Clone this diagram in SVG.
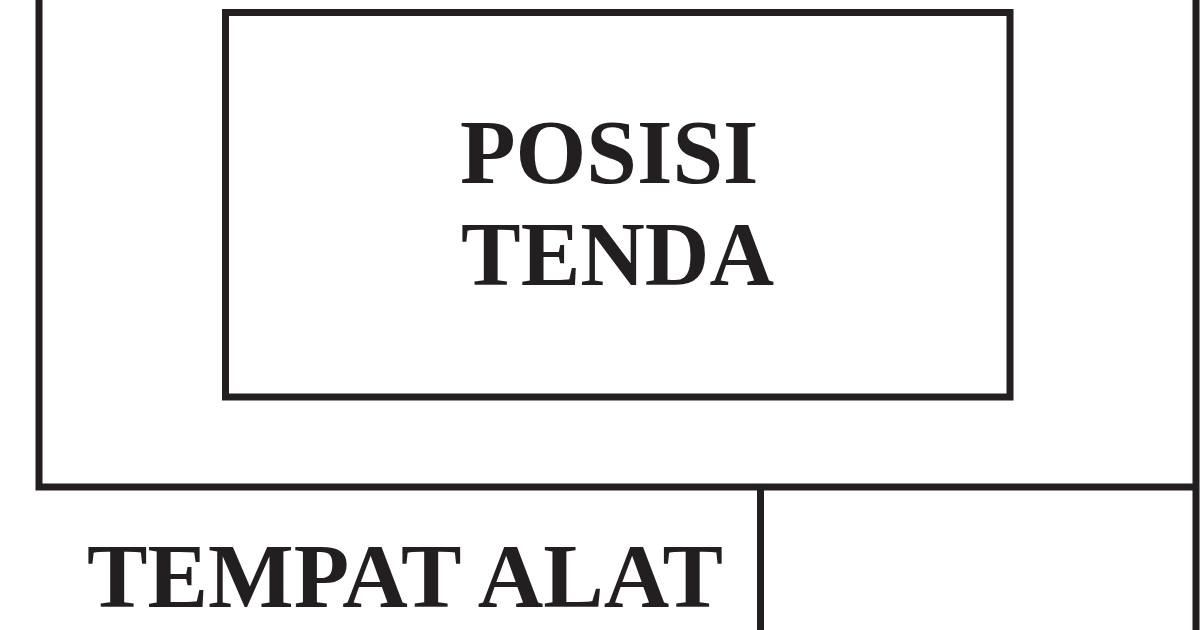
<svg xmlns="http://www.w3.org/2000/svg" width="1200" height="630" viewBox="0 0 1200 630">
<style>
.ln{fill:none;stroke:#231f20;stroke-width:7;stroke-linecap:square}
.t{font-family:"Liberation Serif","Times New Roman",serif;font-weight:bold;fill:#231f20;font-size:91px}
</style>
<rect width="1200" height="630" fill="#fff"/>
<g id="frame">
<path class="ln" d="M39,-10 V487 H1196 M1196,-10 V640 M760.5,487 V640"/>
</g>
<g id="tenda">
<rect class="ln" x="225.5" y="12.5" width="784.5" height="384.5"/>
<text class="t" x="460" y="183">POSISI</text>
<text class="t" x="461" y="285" textLength="313" lengthAdjust="spacingAndGlyphs">TENDA</text>
</g>
<g id="alat">
<text class="t" x="87" y="607" font-size="90" textLength="636" lengthAdjust="spacingAndGlyphs">TEMPAT ALAT</text>
</g>
<g id="connectors"/>
</svg>
